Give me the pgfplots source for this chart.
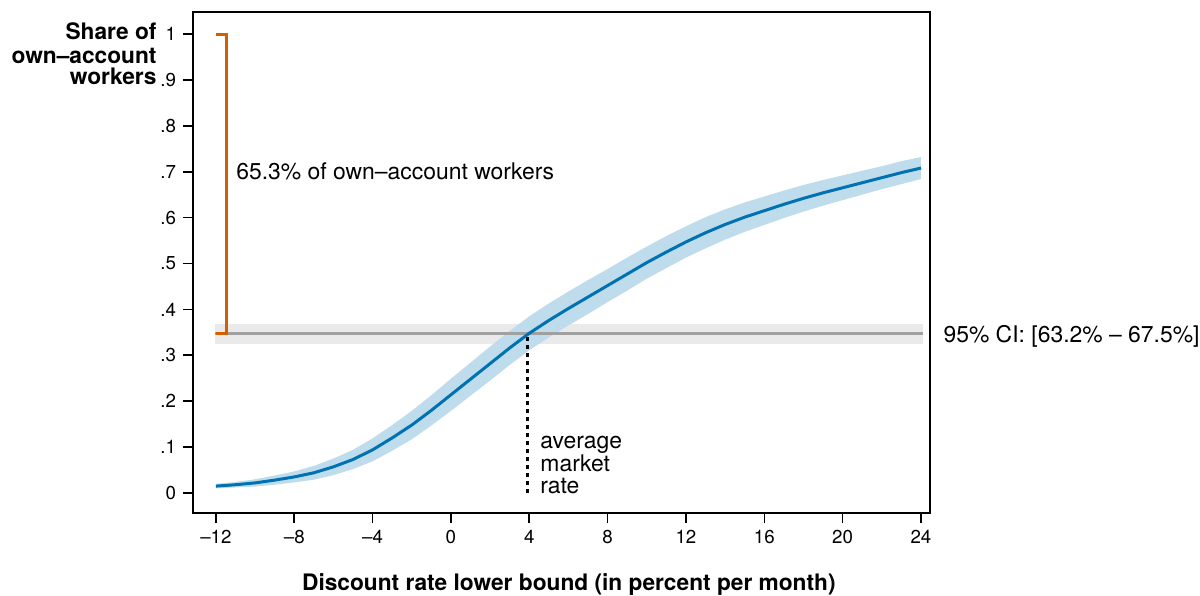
\documentclass[border=0pt]{standalone}
\usepackage{pgfplots}
\pgfplotsset{compat=1.18}
\usepackage{pgfplotstable}
\usepgfplotslibrary{fillbetween}
\usepackage{fontspec}
\setmainfont{TeX Gyre Heros}

\definecolor{curveblue}{RGB}{0,114,178}
\definecolor{bandblue}{RGB}{190,220,235}
\definecolor{ciorange}{RGB}{213,94,0}
\definecolor{cigray}{RGB}{160,160,160}
\definecolor{cishade}{RGB}{234,234,234}

% share of workers below each discount rate, with band
\pgfplotstableread{
x    y     lo    hi
-12  0.015 0.010 0.020
-11  0.018 0.012 0.024
-10  0.022 0.014 0.030
-9   0.028 0.018 0.038
-8   0.035 0.023 0.047
-7   0.044 0.029 0.059
-6   0.057 0.039 0.075
-5   0.073 0.052 0.094
-4   0.094 0.069 0.119
-3   0.120 0.092 0.148
-2   0.148 0.117 0.179
-1   0.180 0.147 0.213
0    0.214 0.179 0.249
1    0.248 0.212 0.284
2    0.282 0.245 0.319
3    0.316 0.279 0.353
4    0.348 0.311 0.385
5    0.376 0.339 0.413
6    0.402 0.365 0.439
7    0.427 0.390 0.464
8    0.452 0.416 0.488
9    0.477 0.441 0.513
10   0.502 0.467 0.537
11   0.525 0.490 0.560
12   0.547 0.513 0.581
13   0.567 0.533 0.601
14   0.585 0.552 0.618
15   0.601 0.569 0.633
16   0.615 0.584 0.646
17   0.629 0.599 0.659
18   0.642 0.613 0.671
19   0.654 0.626 0.682
20   0.665 0.638 0.692
21   0.676 0.650 0.702
22   0.687 0.662 0.712
23   0.698 0.673 0.723
24   0.708 0.684 0.732
}\cdf

\newcommand{\txt}{\fontsize{11.5}{12}\selectfont}
\newcommand{\bfl}{\fontsize{11.4}{12}\selectfont\bfseries}

\begin{document}
\begin{tikzpicture}
\begin{axis}[
    at={(0,0)}, anchor=south west,
    scale only axis, width=368.5bp, height=250.5bp,
    xmin=-13.17, xmax=24.46, ymin=-0.0436, ymax=1.048,
    clip=false, no markers,
    axis line style={line width=1bp},
    tick align=outside, xtick pos=left, ytick pos=left,
    major tick length=5bp,
    every tick/.style={black, line width=0.8bp},
    xtick={-12,-8,-4,0,4,8,12,16,20,24},
    xticklabels={--12,--8,--4,0,4,8,12,16,20,24},
    ytick={0,0.1,0.2,0.3,0.4,0.5,0.6,0.7,0.8,0.9,1},
    yticklabels={0,.1,.2,.3,.4,.5,.6,.7,.8,.9,1},
    tick label style={font=\fontsize{9.4}{11}\selectfont},
    xlabel={Discount rate lower bound (in percent per month)},
    xlabel style={font=\bfl, at={(axis description cs:0.51,0)}, anchor=base, yshift=-38.5bp},
  ]
  % confidence interval of the share
  \addplot[draw=none, fill=cishade] coordinates {(-12.05,0.325) (24.1,0.325) (24.1,0.368) (-12.05,0.368)} -- cycle;

  \addplot[name path=hi, draw=none] table[x=x,y=hi]{\cdf};
  \addplot[name path=lo, draw=none] table[x=x,y=lo]{\cdf};
  \addplot[bandblue] fill between[of=hi and lo, on layer=main];

  \addplot[cigray, line width=1.5bp] coordinates {(-12.05,0.347) (24.1,0.347)};
  \addplot[curveblue, line width=1.5bp] table[x=x,y=y]{\cdf};

  \addplot[ciorange, line width=1.5bp] coordinates {(-12,1) (-11.45,1) (-11.45,0.347) (-12,0.347)};
  \addplot[black, line width=1.5bp, dash pattern=on 2bp off 2bp] coordinates {(3.9,0) (3.9,0.347)};

  \node[anchor=base east, font=\bfl, inner sep=0] at (axis cs:-15.01,0.9885) {Share of};
  \node[anchor=base east, font=\bfl, inner sep=0] at (axis cs:-15.01,0.9362) {own--account};
  \node[anchor=base east, font=\bfl, inner sep=0] at (axis cs:-15.01,0.889) {workers};

  \node[anchor=base west, font=\txt, inner sep=0] at (axis cs:-10.98,0.682) {65.3\% of own--account workers};
  \node[anchor=base west, font=\txt, inner sep=0] at (axis cs:25.13,0.327) {95\% CI: [63.2\% -- 67.5\%]};

  \node[anchor=base west, font=\txt, inner sep=0] at (axis cs:4.55,0.098) {average};
  \node[anchor=base west, font=\txt, inner sep=0] at (axis cs:4.55,0.0464) {market};
  \node[anchor=base west, font=\txt, inner sep=0] at (axis cs:4.55,-0.002) {rate};
\end{axis}
\pgfresetboundingbox
\path (-96.5bp,-41.5bp) rectangle (503.5bp,256.5bp);
\end{tikzpicture}
\end{document}
